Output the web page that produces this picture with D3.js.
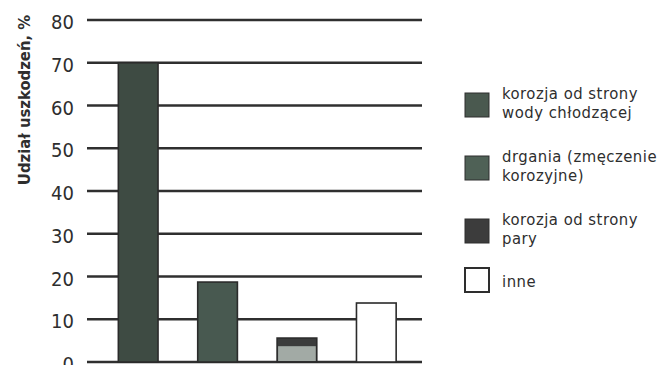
<!DOCTYPE html>
<html>
<head>
<meta charset="utf-8">
<script src="https://cdn.jsdelivr.net/npm/d3@7"></script>
<style>
  body { margin: 0; background: #fff; }
  svg { display: block; }
  text { font-family: "DejaVu Sans Condensed", "Liberation Sans Narrow", sans-serif; fill: #2e2e2e; }
</style>
</head>
<body>
<script>
// categories (one bar per damage cause)
const categories = ['korozja_woda', 'drgania', 'korozja_para', 'inne'];
// share of damage, %
const values = [70, 18.7, 5.6, 13.8];
// lighter lower part seen in the 3rd bar
const lowerPart = [0, 0, 3.7, 0];
const yTicks = [0, 10, 20, 30, 40, 50, 60, 70, 80];
const fills = ['#3e4b43', '#485950', '#3b3c3c', '#ffffff'];
const legendLines = [
    ['korozja od strony', 'wody chłodzącej'],
    ['drgania (zmęczenie', 'korozyjne)'],
    ['korozja od strony', 'pary'],
    ['inne']
];
const legendFills = ['#4a594f', '#4f6156', '#3c3c3c', '#ffffff'];

const W = 664, H = 365;

const svg = d3.select('body')
    .append('svg')
    .attr('width', W)
    .attr('height', H);

const x = d3.scaleBand()
    .domain(categories)
    .range([98.5, 416])
    .paddingInner(0.5)
    .paddingOuter(0.25);

const y = d3.scaleLinear()
    .domain([0, 80])
    .range([362, 20]);

// grid lines
svg.append('g')
    .selectAll('line')
    .data(yTicks)
    .enter()
    .append('line')
    .attr('x1', 87)
    .attr('x2', 422)
    .attr('y1', d => y(d))
    .attr('y2', d => y(d))
    .attr('stroke', '#2f2f2f')
    .attr('stroke-width', 2.4);

// tick labels
svg.append('g')
    .selectAll('text')
    .data(yTicks)
    .enter()
    .append('text')
    .attr('x', 74)
    .attr('y', d => y(d) + 2)
    .attr('dy', '0.35em')
    .attr('text-anchor', 'end')
    .style('font-size', '20px')
    .text(d => d);

// axis title
svg.append('text')
    .attr('transform', 'translate(30,100) rotate(-90)')
    .attr('text-anchor', 'middle')
    .style('font-size', '16.5px')
    .style('font-weight', 'bold')
    .text('Udział uszkodzeń, %');

// bars
svg.append('g')
    .selectAll('rect')
    .data(values)
    .enter()
    .append('rect')
    .attr('x', (d, i) => x(categories[i]))
    .attr('y', d => y(d))
    .attr('width', x.bandwidth())
    .attr('height', d => y(0) - y(d))
    .attr('fill', (d, i) => fills[i])
    .attr('stroke', '#2b2b2b')
    .attr('stroke-width', 1.6);

// lighter lower segment
svg.append('g')
    .selectAll('rect')
    .data(lowerPart)
    .enter()
    .filter(d => d > 0)
    .append('rect')
    .attr('x', (d, i) => x(categories[lowerPart.indexOf(d)]) + 1)
    .attr('y', d => y(d))
    .attr('width', x.bandwidth() - 2)
    .attr('height', d => y(0) - y(d) - 1)
    .attr('fill', '#a2aaa5');

// legend
const legendTop = [93, 156, 219, 268];
const legend = svg.append('g')
    .selectAll('g')
    .data(legendLines)
    .enter()
    .append('g')
    .attr('transform', (d, i) => `translate(465,${legendTop[i]})`);

legend.append('rect')
    .attr('width', 24)
    .attr('height', 24)
    .attr('fill', (d, i) => legendFills[i])
    .attr('stroke', '#2e2e2e')
    .attr('stroke-width', (d, i) => i === 3 ? 2 : 1);

legend.each(function(lines, i) {
    const t = d3.select(this).append('text')
        .attr('x', 37)
        .attr('y', i === 3 ? 19 : 6)
        .style('font-size', '16.5px')
        .style('letter-spacing', '0.5px');
    lines.forEach((s, j) => {
        t.append('tspan')
            .attr('x', 37)
            .attr('dy', j === 0 ? 0 : 19)
            .text(s);
    });
});
</script>
</body>
</html>
